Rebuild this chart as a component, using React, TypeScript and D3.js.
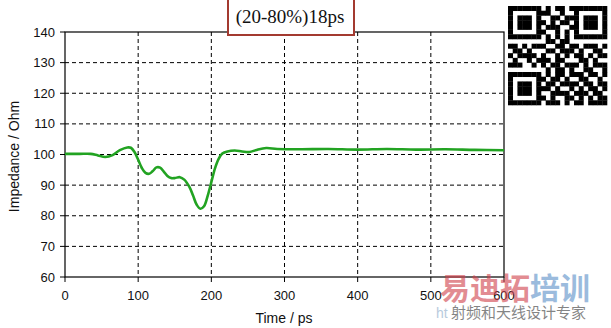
import React from 'react';
import * as d3 from 'd3';

const width = 611;
const height = 328;
const green = '#22a322';
const margin = { top: 32, right: 107, bottom: 51, left: 65 };

// TDR impedance trace
const times = [0, 20, 35, 45, 55, 65, 75, 85, 90, 95, 100, 105, 110, 115, 120, 125, 130, 135, 140, 145, 150, 157, 163, 170, 175, 180, 185, 190, 195, 200, 205, 210, 215, 222, 232, 242, 252, 262, 275, 290, 320, 360, 400, 440, 480, 520, 560, 600];
const impedance = [100.2, 100.2, 100.2, 99.7, 99.2, 99.8, 101.4, 102.3, 102.2, 100.8, 98.3, 95.6, 94.0, 93.7, 94.6, 95.8, 95.7, 94.4, 93.0, 92.3, 92.3, 92.6, 91.8, 89.4, 86.6, 83.6, 82.3, 83.1, 86.5, 91.0, 95.5, 98.6, 100.3, 101.0, 101.3, 101.0, 100.8, 101.5, 102.1, 101.8, 101.7, 101.8, 101.6, 101.8, 101.6, 101.7, 101.5, 101.4];
const xTicks = [0, 100, 200, 300, 400, 500, 600];
const yTicks = [60, 70, 80, 90, 100, 110, 120, 130, 140];
const title = '(20-80%)18ps';

const qrRows = [
  '111111101011011111111',
  '100000111001001000001',
  '101110100110111011101',
  '101110110101101011101',
  '101110101110011011101',
  '100000110010101000001',
  '111111101010101111111',
  '000000001101100000000',
  '110101110011011011101',
  '011010001101110100110',
  '101111010010101101011',
  '010010111011000110100',
  '111001010110111010111',
  '000000001011010011001',
  '111111101011011101101',
  '100000110110100110010',
  '101110101101111011011',
  '101110111010010101101',
  '101110100111101110110',
  '100000110100110101011',
  '111111101110101101111',
];

const x = d3.scaleLinear().domain([0, 600]).range([margin.left, width - margin.right]);
const y = d3.scaleLinear().domain([60, 140]).range([height - margin.bottom, margin.top]);

const line = d3
  .line<number>()
  .x((_, i) => x(times[i]))
  .y(d => y(d))
  .curve(d3.curveCatmullRom.alpha(0.5));

const axisFont = '"Liberation Sans", Arial, sans-serif';

export default function App() {
  const x0 = x(0);
  const x1 = x(600);
  const y0 = y(60);
  const y1 = y(140);
  const qrSize = 99;
  const cell = qrSize / qrRows.length;
  const qrX = 508;
  const qrY = 6;

  return (
    <svg
      width={width}
      height={height}
      style={{ position: 'absolute', left: 0, top: 0, background: '#fff' }}
      fontFamily={axisFont}
    >
      <rect width={width} height={height} fill="#fff" />

      {/* grid */}
      {xTicks.slice(1, -1).map(t => (
        <line key={'gx' + t} x1={x(t)} x2={x(t)} y1={y1} y2={y0} stroke="#000" strokeDasharray="4,3" />
      ))}
      {yTicks.slice(1, -1).map(t => (
        <line key={'gy' + t} x1={x0} x2={x1} y1={y(t)} y2={y(t)} stroke="#000" strokeDasharray="4,3" />
      ))}

      {/* frame */}
      <rect x={x0} y={y1} width={x1 - x0} height={y0 - y1} fill="none" stroke="#000" strokeWidth={1.2} />

      {/* ticks + labels */}
      {yTicks.map(t => (
        <g key={'ty' + t}>
          <line x1={x0 - 5} x2={x0} y1={y(t)} y2={y(t)} stroke="#000" />
          <text x={x0 - 10} y={y(t)} dy="0.35em" textAnchor="end" fontSize={13} fill="#111">
            {t}
          </text>
        </g>
      ))}
      {xTicks.map(t => (
        <g key={'tx' + t}>
          <line x1={x(t)} x2={x(t)} y1={y0} y2={y0 + 5} stroke="#000" />
          <text x={x(t)} y={y0 + 23} textAnchor="middle" fontSize={13} fill="#111">
            {t}
          </text>
        </g>
      ))}

      <text x={284} y={323} textAnchor="middle" fontSize={14} fill="#111">
        Time / ps
      </text>
      <text
        transform={`translate(19,${(y0 + y1) / 2 + 2}) rotate(-90)`}
        textAnchor="middle"
        fontSize={14}
        fill="#111"
      >
        Impedance / Ohm
      </text>

      {/* trace */}
      <path d={line(impedance) || ''} fill="none" stroke={green} strokeWidth={2.6} strokeLinejoin="round" />

      {/* title box */}
      <rect x={228} y={-3} width={126} height={38} fill="#fff" stroke="#a33a30" strokeWidth={2} />
      <text x={290} y={23} textAnchor="middle" fontSize={19} fontFamily='"Liberation Serif", serif' fill="#111">
        {title}
      </text>

      {/* QR code */}
      {qrRows.map((row, r) =>
        row.split('').map((c, k) =>
          c === '1' ? (
            <rect key={r + '-' + k} x={qrX + k * cell} y={qrY + r * cell} width={cell + 0.3} height={cell + 0.3} fill="#000" />
          ) : null
        )
      )}

      {/* watermark */}
      <g opacity={0.6}>
        <text x={440} y={299} fontSize={30} fontWeight="bold" fontFamily='"Noto Sans CJK SC", sans-serif'>
          <tspan fill="#d0404a">易迪拓</tspan>
          <tspan fill="#5a8fc8">培训</tspan>
        </text>
        <text x={436} y={318} fontSize={14} fill="#8aa8c8">ht</text>
        <text x={451} y={318} fontSize={15} fill="#333" fontFamily='"Noto Sans CJK SC", sans-serif'>
          射频和天线设计专家
        </text>
      </g>
    </svg>
  );
}
